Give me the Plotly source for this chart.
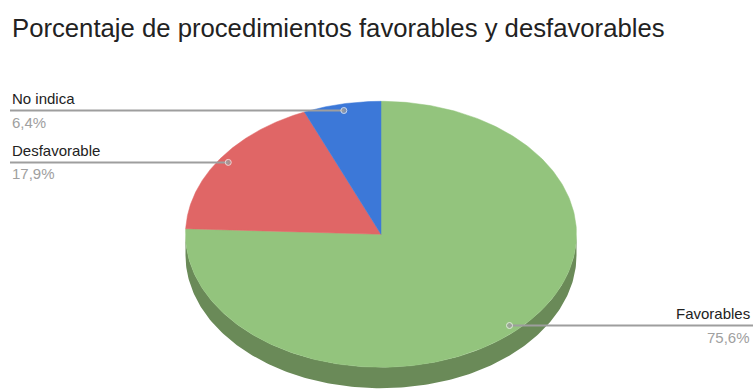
import numpy as np
import plotly.graph_objects as go

labels = ["Favorables", "Desfavorable", "No indica"]
values = [75.6, 17.9, 6.4]
value_text = ["75,6%", "17,9%", "6,4%"]
top_colors = ["#93c47d", "#e06666", "#3c78d8"]
side_colors = ["#6a8a58", "#9d4848", "#2a5497"]
title_text = "Porcentaje de procedimientos favorables y desfavorables"

W, H = 753, 390
CX, CY, RX, RY, DEPTH = 381, 234.3, 195.5, 133, 21
FONT = "Liberation Sans, Arial, sans-serif"

total = sum(values)
fracs = [v / total for v in values]
cum = np.concatenate([[0], np.cumsum(fracs)])
starts = 90 - 360 * cum[:-1]
ends = 90 - 360 * cum[1:]


def pt(theta_deg, r=1.0, dy=0.0):
    t = np.radians(theta_deg)
    return CX + RX * r * np.cos(t), CY - RY * r * np.sin(t) + dy


fig = go.Figure()

# side walls (front half only: theta in [-180, 0])
for i in range(len(values)):
    a, b = starts[i], ends[i]  # a > b
    hi, lo = min(a, 0), max(b, -180)
    if hi <= lo:
        continue
    th = np.linspace(hi, lo, 200)
    xt, yt = pt(th)
    xb, yb = pt(th[::-1], dy=DEPTH)
    fig.add_trace(go.Scatter(
        x=np.concatenate([xt, xb]), y=np.concatenate([yt, yb]),
        fill="toself", fillcolor=side_colors[i], mode="lines",
        line=dict(width=0, color=side_colors[i]), hoverinfo="skip", showlegend=False))

# top faces
for i in range(len(values)):
    th = np.linspace(starts[i], ends[i], 300)
    xs, ys = pt(th)
    fig.add_trace(go.Scatter(
        x=np.concatenate([[CX], xs, [CX]]), y=np.concatenate([[CY], ys, [CY]]),
        fill="toself", fillcolor=top_colors[i], mode="lines",
        line=dict(width=0.5, color=top_colors[i]), hoverinfo="skip", showlegend=False,
        name=labels[i]))

# leader lines and labels
annotations = [dict(
    text=title_text, x=10, y=27.5, xref="x", yref="y", xanchor="left", yanchor="middle",
    showarrow=False, font=dict(family=FONT, size=25.7, color="#222222"))]

for i in range(len(values)):
    mid = (starts[i] + ends[i]) / 2
    dx, dy = pt(mid, r=0.95)
    right = np.cos(np.radians(mid)) > 0
    x_end = W if right else 10
    fig.add_trace(go.Scatter(
        x=[x_end, dx], y=[dy, dy], mode="lines+markers",
        line=dict(color="#9e9e9e", width=2),
        marker=dict(size=[0, 6], color="#9e9e9e"),
        hoverinfo="skip", showlegend=False))
    tx = W - 1 if right else 10
    xa = "right" if right else "left"
    annotations.append(dict(
        text=labels[i], x=tx, y=dy - 1.5, xref="x", yref="y", xanchor=xa, yanchor="bottom",
        showarrow=False, font=dict(family=FONT, size=15, color="#222222")))
    annotations.append(dict(
        text=value_text[i], x=tx, y=dy + 1, xref="x", yref="y", xanchor=xa, yanchor="top",
        showarrow=False, font=dict(family=FONT, size=15, color="#a0a0a0")))

fig.update_layout(
    width=W, height=H, margin=dict(l=0, r=0, t=0, b=0),
    paper_bgcolor="white", plot_bgcolor="white",
    xaxis=dict(range=[0, W], visible=False, fixedrange=True),
    yaxis=dict(range=[H, 0], visible=False, fixedrange=True),
    annotations=annotations, showlegend=False)

fig.write_html("out.html")
